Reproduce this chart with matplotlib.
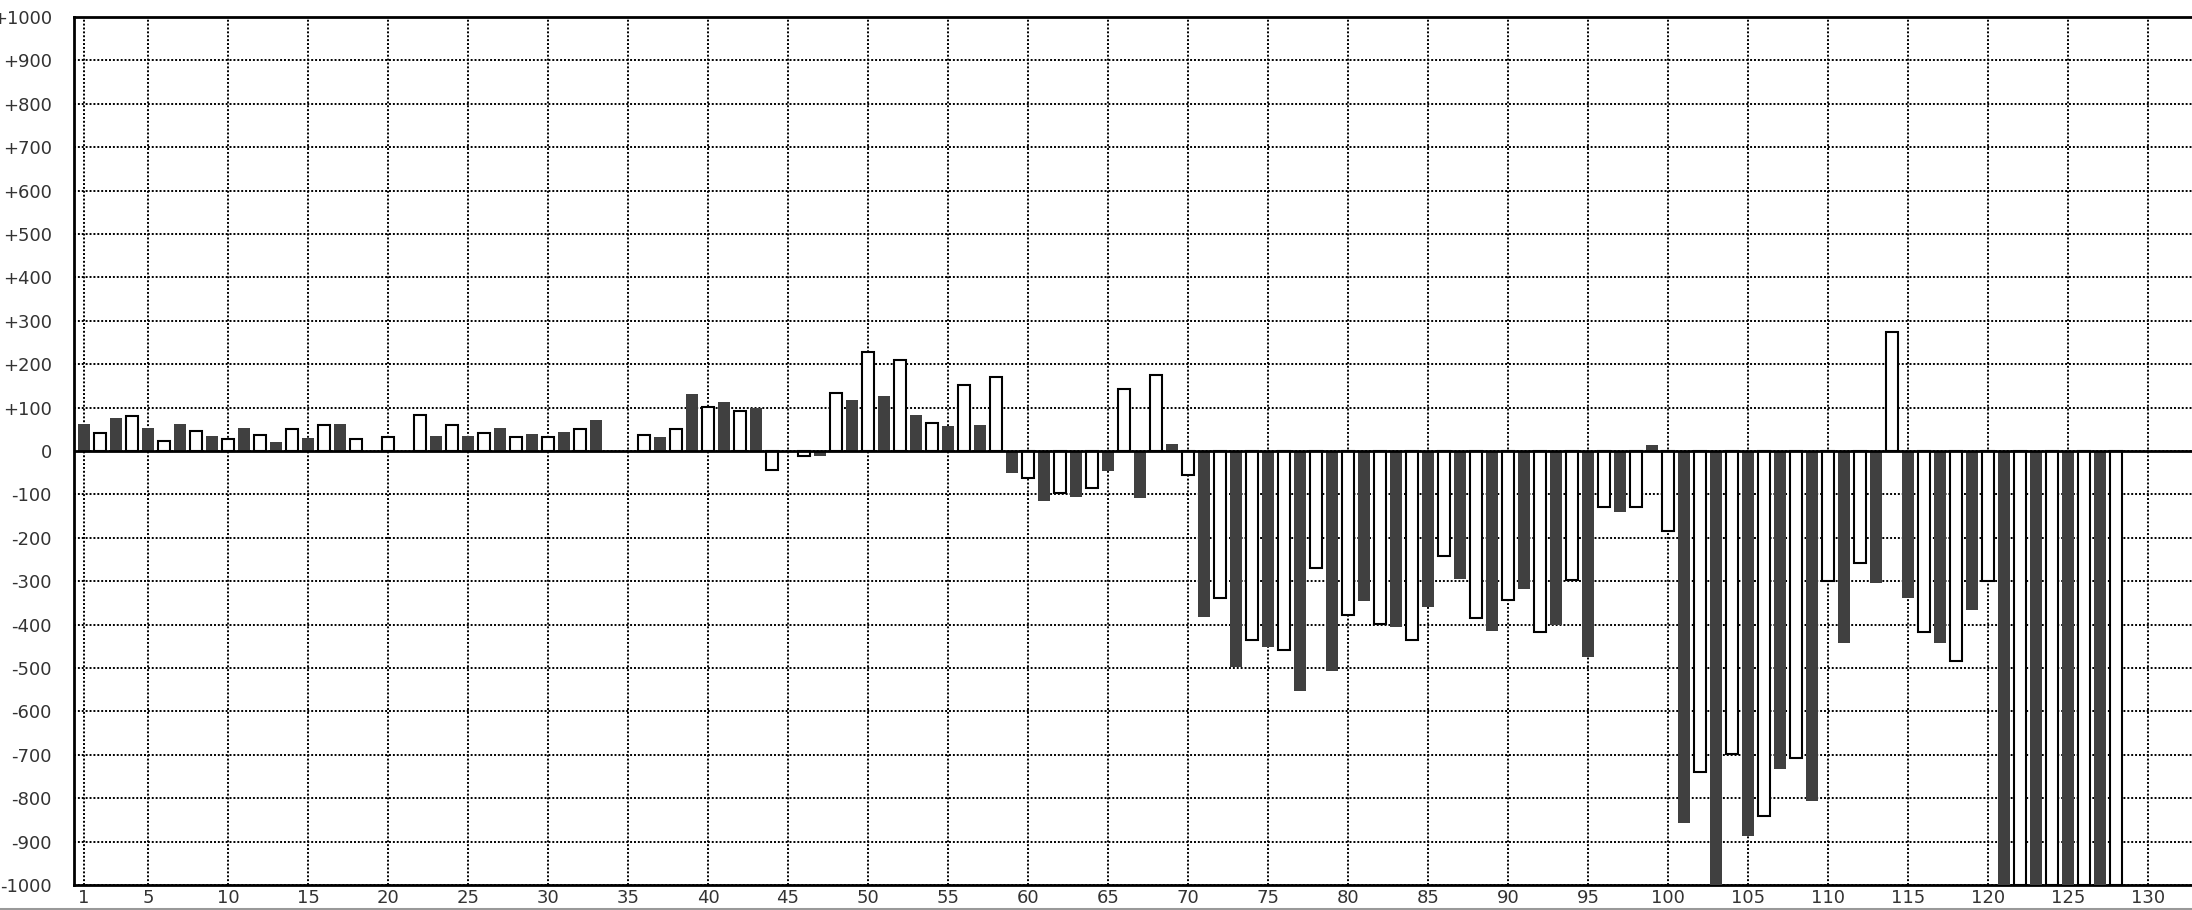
import numpy as np
import matplotlib
matplotlib.use("Agg")
import matplotlib.pyplot as plt
from matplotlib.lines import Line2D

nan = np.nan

# dark bars sit on the odd positions 1, 3, ..., 127
dark_vals = [62, 76, 53, 62, 34, 53, 20, 29, 62, nan, nan, 34, 34, 53, 39, 43,
             71, nan, 33, 131, 112, 98, nan, -12, 117, 126, 84, 57, 61, -50, -115, -105,
             -45, -109, 15, -382, -498, -451, -553, -507, -345, -405, -359, -294, -414, -317, -400, -475,
             -141, 14, -856, -1000, -888, -733, -806, -442, -305, -338, -442, -366, -1000, -1000, -1000, -1000]

# white bars sit on the even positions 2, 4, ..., 128
white_vals = [42, 80, 23, 47, 28, 37, 51, 61, 28, 33, 84, 61, 42, 33, 33, 51,
              nan, 36, 50, 102, 92, -43, -11, 134, 227, 209, 65, 153, 171, -62, -96, -85,
              144, 176, -56, -339, -435, -459, -269, -377, -399, -436, -242, -385, -343, -417, -297, -130,
              -129, -184, -740, -698, -841, -708, -299, -258, 275, -418, -483, -299, -1000, -1000, -1000, -1000]

x_ticks = [1] + list(range(5, 131, 5))
y_ticks = list(range(-1000, 1001, 100))
y_labels = ["0" if v == 0 else ("+%d" % v if v > 0 else "%d" % v) for v in y_ticks]

x_dark = np.arange(1, 2 * len(dark_vals), 2)
x_white = np.arange(2, 2 * len(white_vals) + 1, 2)

W, H = 2192, 910
fig = plt.figure(figsize=(W / 100, H / 100), dpi=100)
fig.patch.set_facecolor("white")
ax = fig.add_axes([74 / W, (H - 885) / H, 1 - 74 / W, (885 - 17) / H])

ax.bar(x_dark, dark_vals, width=0.75, color="#404040", edgecolor="none", zorder=3)
ax.bar(x_white, white_vals, width=0.72, color="white", edgecolor="black", linewidth=1.5, zorder=3)
ax.axhline(0, color="black", linewidth=2, zorder=4)

ax.set_xlim(1 - 10 / 16, 1 + (W - 84) / 16)
ax.set_ylim(-1000, 1000)
ax.set_xticks(x_ticks)
ax.set_yticks(y_ticks)
ax.set_yticklabels(y_labels)
ax.tick_params(axis="both", length=0, labelsize=13, labelcolor="#333333")
ax.tick_params(axis="y", pad=16)
ax.tick_params(axis="x", pad=3)

ax.grid(True, color="black", linestyle=(0, (1, 1)), linewidth=1.4, zorder=1)
ax.set_axisbelow(True)

for side in ["left", "bottom", "top"]:
    ax.spines[side].set_linewidth(2)
    ax.spines[side].set_color("black")
ax.spines["right"].set_visible(False)

fig.add_artist(Line2D([0, 1], [1.5 / H, 1.5 / H], transform=fig.transFigure,
                      color="#999999", linewidth=2.2))

fig.savefig("out.png", dpi=100)
